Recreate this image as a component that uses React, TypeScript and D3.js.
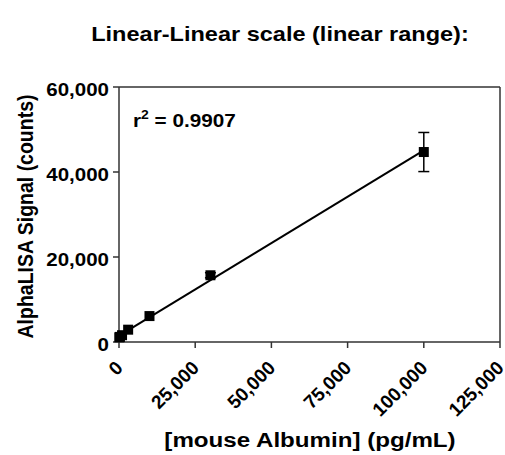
import React from "react";
import * as d3 from "d3";

const conc = [100000, 30000, 10000, 3000, 1000, 300, 100];
const signal = [44700, 15700, 6100, 2900, 1600, 1200, 1100];
const errPlus = [4600, 600, 300, 200, 150, 100, 100];
const xTicks = [0, 25000, 50000, 75000, 100000, 125000];
const yTicks = [0, 20000, 40000, 60000];
const title = "Linear-Linear scale (linear range):";
const xLabel = "[mouse Albumin] (pg/mL)";
const yLabel = "AlphaLISA Signal (counts)";
const r2Text = "0.9907";

export default function App() {
  const W = 505, H = 455;
  const m = { left: 119, right: 5, top: 87, bottom: 113 };
  const x = d3.scaleLinear().domain([0, 125000]).range([m.left, W - m.right]);
  const y = d3.scaleLinear().domain([0, 60000]).range([H - m.bottom, m.top]);
  const fmt = d3.format(",");
  const n = conc.length;
  const mx = d3.mean(conc)!, my = d3.mean(signal)!;
  let sxy = 0, sxx = 0;
  for (let i = 0; i < n; i++) {
    sxy += (conc[i] - mx) * (signal[i] - my);
    sxx += (conc[i] - mx) ** 2;
  }
  const slope = sxy / sxx, icpt = my - slope * mx;
  const xMin = d3.min(conc)!, xMax = d3.max(conc)!;
  const line = d3.line<number>().x((d) => x(d)).y((d) => y(icpt + slope * d));
  const font = "'Liberation Sans', Arial, sans-serif";
  const axisColor = "#333";
  const y0 = y(0);
  const sx = 1.12;
  return (
    <svg width={W} height={H} style={{ position: "absolute", left: 0, top: 0 }} fontFamily={font}>
      <rect width={W} height={H} fill="#fff" />
      <text transform={`translate(280,41) scale(${sx},1)`} textAnchor="middle" fontWeight="bold" fontSize={21}>{title}</text>
      {/* axes */}
      <line x1={x(0)} x2={x(0)} y1={y(60000)} y2={y0} stroke={axisColor} strokeWidth={1.5} />
      <line x1={x(0)} x2={x(125000)} y1={y0} y2={y0} stroke={axisColor} strokeWidth={1.5} />
      <line x1={x(125000)} x2={x(125000)} y1={y(60000)} y2={y0} stroke={axisColor} strokeWidth={1.5} />
      <line x1={x(0)} x2={x(125000)} y1={y(60000)} y2={y(60000)} stroke={axisColor} strokeWidth={1.5} />
      {yTicks.map((t) => (
        <g key={"y" + t}>
          <line x1={x(0) - 6} x2={x(0)} y1={y(t)} y2={y(t)} stroke={axisColor} strokeWidth={1.5} />
          <text transform={`translate(${x(0) - 10},${y(t) + 8.5}) scale(1.08,1)`} textAnchor="end" fontWeight="bold" fontSize={19}>{fmt(t)}</text>
        </g>
      ))}
      {xTicks.map((t) => (
        <g key={"x" + t}>
          <line x1={x(t)} x2={x(t)} y1={y0} y2={y0 + 6} stroke={axisColor} strokeWidth={1.5} />
          <text transform={`translate(${x(t) + 5},${y0 + 27}) rotate(-45)`} textAnchor="end" fontWeight="bold" fontSize={19}>{fmt(t)}</text>
        </g>
      ))}
      <text transform={`translate(310,447) scale(1.15,1)`} textAnchor="middle" fontWeight="bold" fontSize={21}>{xLabel}</text>
      <text transform={`translate(33,${(m.top + y0) / 2 + 2}) scale(1.15,1) rotate(-90)`} textAnchor="middle" fontWeight="bold" fontSize={19.5}>{yLabel}</text>
      <path d={line([xMin, xMax]) || ""} stroke="#000" strokeWidth={2} fill="none" />
      {conc.map((c, i) => (
        <g key={"p" + i}>
          {errPlus[i] > 500 && (
            <g stroke="#000" strokeWidth={1.5}>
              <line x1={x(c)} x2={x(c)} y1={y(signal[i] + errPlus[i])} y2={y(signal[i] - errPlus[i])} />
              <line x1={x(c) - 5.5} x2={x(c) + 5.5} y1={y(signal[i] + errPlus[i])} y2={y(signal[i] + errPlus[i])} />
              <line x1={x(c) - 5.5} x2={x(c) + 5.5} y1={y(signal[i] - errPlus[i])} y2={y(signal[i] - errPlus[i])} />
            </g>
          )}
          <rect x={x(c) - 5} y={y(signal[i]) - 5} width={10} height={10} fill="#000" />
        </g>
      ))}
      <text transform={`translate(133,127) scale(${sx},1)`} fontWeight="bold" fontSize={18.5}>
        r<tspan dy={-8} fontSize={12.5}>2</tspan><tspan dy={8}> = {r2Text}</tspan>
      </text>
    </svg>
  );
}
